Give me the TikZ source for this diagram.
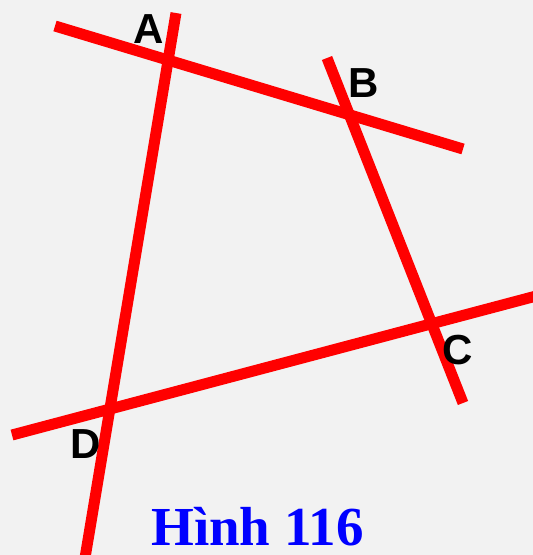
\documentclass[tikz,border=0pt]{standalone}
\usepackage{fontspec}
\setmainfont{Liberation Serif}
\newfontfamily\etqfont{Liberation Sans}
\definecolor{fondo}{RGB}{242,242,242}
\definecolor{rojo}{RGB}{255,0,0}
\tikzset{etq/.style={font=\etqfont\bfseries\fontsize{42}{42}\selectfont, anchor=base, inner sep=0pt},
  recta/.style={line width=11pt, rojo},
  titulo/.style={font=\bfseries\fontsize{55}{55}\selectfont, text=blue, anchor=base, inner sep=0pt, text depth=0pt}}

\begin{document}
\begin{tikzpicture}[x=1pt, y=-1pt]
  \useasboundingbox (0,0) rectangle (533,555);
  \fill[fondo] (0,0) rectangle (533,555);
  \clip (0,0) rectangle (533,555);
  % extremos de las rectas
  \coordinate (ab1) at (55,26);   \coordinate (ab2) at (463,149);
  \coordinate (ad1) at (176,13);  \coordinate (ad2) at (85,558);
  \coordinate (bc1) at (327,58);  \coordinate (bc2) at (463,403);
  \coordinate (dc1) at (12,435);  \coordinate (dc2) at (540,295);
  \draw[recta] (ab1) -- (ab2);
  \draw[recta] (ad1) -- (ad2);
  \draw[recta] (bc1) -- (bc2);
  \draw[recta] (dc1) -- (dc2);
  % vertices
  \node[etq] (A) at (148.5,43) {A};
  \node[etq] (B) at (363.5,97) {B};
  \node[etq] (C) at (457.5,364) {C};
  \node[etq] (D) at (85.5,458) {D};
  \node[titulo] (hinh) at (257.5,545) {Hình 116};
\end{tikzpicture}
\end{document}
